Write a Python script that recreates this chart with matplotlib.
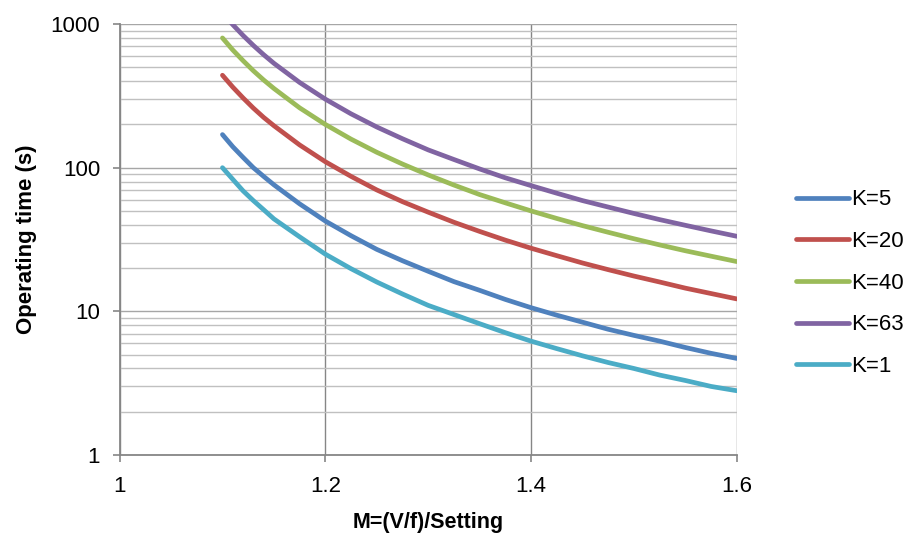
import matplotlib
matplotlib.use("Agg")
import matplotlib.pyplot as plt
from matplotlib.ticker import LogLocator, NullFormatter

plt.rcParams['font.family'] = ['Liberation Sans', 'DejaVu Sans']

M = [1.10, 1.11, 1.12, 1.13, 1.14, 1.15, 1.175, 1.20, 1.225, 1.25, 1.275, 1.30, 1.325,
     1.35, 1.375, 1.40, 1.425, 1.45, 1.475, 1.50, 1.525, 1.55, 1.575, 1.60]
series_names = ["K=5", "K=20", "K=40", "K=63", "K=1"]
t_k5 = [170, 140, 118, 100, 87, 76, 56, 42.5, 33.6, 27, 22.5, 19, 16.1,
        14, 12.1, 10.6, 9.4, 8.4, 7.5, 6.8, 6.2, 5.6, 5.1, 4.7]
t_k20 = [440, 364, 306, 260, 224, 196, 144, 110, 87, 70, 58, 49, 41.7,
         36, 31.3, 27.5, 24.4, 21.7, 19.5, 17.6, 16.0, 14.5, 13.3, 12.2]
t_k40 = [800, 660, 556, 473, 408, 356, 261, 200, 158, 128, 106, 89, 75.7,
         65, 56.9, 50, 44.3, 39.5, 35.5, 32, 29.0, 26.4, 24.2, 22.2]
t_k63 = [1200, 990, 833, 710, 612, 533, 392, 300, 237, 192, 159, 133, 114,
         98, 85, 75, 66.4, 59, 53.2, 48, 43.5, 39.7, 36.3, 33.3]
t_k1 = [100, 83, 69, 59, 51, 44, 33, 25, 19.8, 16, 13.2, 11, 9.5,
        8.2, 7.1, 6.2, 5.5, 4.9, 4.4, 4.0, 3.6, 3.3, 3.0, 2.8]
series_values = [t_k5, t_k20, t_k40, t_k63, t_k1]
colors = ["#4F81BD", "#C0504D", "#9BBB59", "#8064A2", "#4BACC6"]

x_ticks = [1, 1.2, 1.4, 1.6]
x_tick_labels = ["1", "1.2", "1.4", "1.6"]
y_ticks = [1, 10, 100, 1000]
y_tick_labels = ["1", "10", "100", "1000"]

fig = plt.figure(figsize=(9.13, 5.34), dpi=100)
ax = fig.add_axes([0.131, 0.148, 0.676, 0.807])

for name, vals, c in zip(series_names, series_values, colors):
    ax.plot(M, vals, color=c, lw=3.4, label=name, solid_capstyle='round', zorder=3)

ax.set_yscale('log')
ax.set_xlim(1, 1.6)
ax.set_ylim(1, 1000)
ax.set_xticks(x_ticks)
ax.set_xticklabels(x_tick_labels)
ax.set_yticks(y_ticks)
ax.set_yticklabels(y_tick_labels)
ax.yaxis.set_minor_locator(LogLocator(base=10, subs=range(2, 10)))
ax.yaxis.set_minor_formatter(NullFormatter())

ax.grid(True, which='minor', axis='y', color='#c0c0c0', lw=1.0, zorder=1)
ax.grid(True, which='major', axis='y', color='#a6a6a6', lw=1.0, zorder=1)
ax.grid(True, which='major', axis='x', color='#868686', lw=1.0, zorder=1)

for s in ['top', 'right']:
    ax.spines[s].set_visible(False)
for s in ['left', 'bottom']:
    ax.spines[s].set_color('#868686')
    ax.spines[s].set_linewidth(1.3)

ax.tick_params(axis='both', which='major', direction='out', length=5, width=1.2,
               color='#868686', labelsize=16)
ax.tick_params(axis='y', which='minor', length=0)
ax.tick_params(axis='x', pad=10)
ax.tick_params(axis='y', pad=9)

ax.set_xlabel("M=(V/f)/Setting", fontsize=15.5, fontweight='bold', labelpad=11)
ax.set_ylabel("Operating time (s)", fontsize=16, fontweight='bold', labelpad=10)

leg = fig.legend(loc='upper left', bbox_to_anchor=(0.862, 0.662), frameon=False,
                 fontsize=16, handlelength=2.4, handletextpad=0.1, labelspacing=0.93,
                 borderaxespad=0)

fig.savefig("out.png", dpi=100)
